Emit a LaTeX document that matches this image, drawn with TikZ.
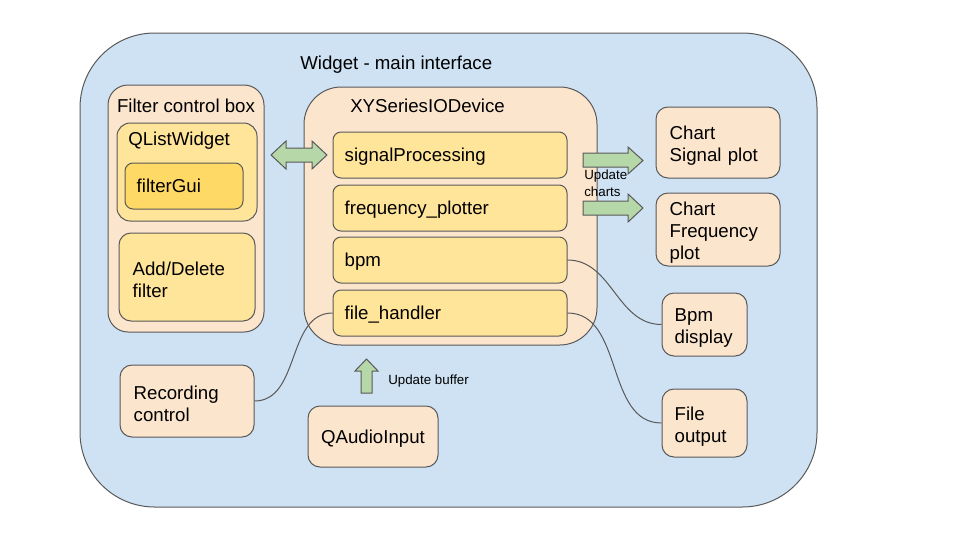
\documentclass[tikz,border=0pt]{standalone}
\usepackage{fontspec}
\setmainfont{Liberation Sans}
\definecolor{bluebg}{HTML}{CFE2F3}
\definecolor{peach}{HTML}{FCE5CD}
\definecolor{ylw}{HTML}{FFE599}
\definecolor{ylwd}{HTML}{FFD966}
\definecolor{grn}{HTML}{B6D7A8}
\definecolor{edgec}{HTML}{595959}
\newcommand\bx[8]{% name, x1, y1, x2, y2, style, pad(px), text
  \pgfmathsetmacro\bw{(#4-#2)*0.75}%
  \pgfmathsetmacro\bh{(#5-#3)*0.75}%
  \pgfmathsetmacro\tw{(#4-#2)*0.75-2*#7*0.75-1}%
  \pgfmathsetmacro\pd{#7*0.75}%
  \node[#6, minimum width=\bw pt, minimum height=\bh pt, text width=\tw pt,
        inner xsep=\pd pt, inner ysep=0pt] (#1) at ({(#2+#4)/2},{(#3+#5)/2}) {#8};%
}
\newcommand\ml{\rule{0pt}{15pt}}
\begin{document}
\begin{tikzpicture}[x=0.75pt,y=-0.75pt,
  every node/.style={font=\fontsize{14}{16.5}\selectfont, text=black},
  box/.style={draw=edgec, line width=0.75pt, align=left, rounded corners=#1},
  box/.default=9pt,
  sl/.style={text depth=0pt},
  lbl/.style={inner sep=0pt, text depth=0pt},
  conn/.style={draw=edgec, line width=0.75pt},
  garr/.style={draw=edgec, fill=grn, line width=0.75pt, line join=miter},
  small/.style={font=\fontsize{10}{12.75}\selectfont, align=left, inner sep=0pt}]
\useasboundingbox (0,0) rectangle (960,540);

% main frame
\bx{main}{80}{33}{817}{507}{box=56pt, fill=bluebg}{0}{}
\node[lbl, anchor=west] (maint) at (300,63) {Widget - main interface};

% filter control box
\bx{filt}{108}{85}{264}{332}{box=15pt, fill=peach}{0}{}
\node[lbl] (filtt) at (186,106) {Filter control box};
\bx{qlist}{117}{123}{257}{221}{box=10pt, fill=ylw}{0}{}
\node[lbl, anchor=west] (qlistt) at (128,139) {QListWidget};
\bx{fgui}{125}{163}{243}{209}{box=6pt, fill=ylwd, sl}{11}{filterGui}
\bx{addd}{119}{233}{255}{321}{box=9pt, fill=ylw}{13}{\ml Add/Delete\\filter}

% XYSeriesIODevice
\bx{xy}{304}{87}{597}{345}{box=28pt, fill=peach}{0}{}
\node[lbl, anchor=west] (xyt) at (350,106) {XYSeriesIODevice};
\bx{sig}{333}{132}{567}{178}{box=6pt, fill=ylw, sl}{11}{signalProcessing}
\bx{freq}{333}{185}{567}{231}{box=6pt, fill=ylw, sl}{11}{frequency\_plotter}
\bx{bpm}{333}{237}{567}{283}{box=6pt, fill=ylw, sl}{11}{bpm}
\bx{fh}{333}{290}{567}{336}{box=6pt, fill=ylw, sl}{11}{file\_handler}

% right side
\bx{chs}{656}{107}{780}{178}{box=9pt, fill=peach}{13}{\ml Chart\\Signal plot}
\bx{chf}{656}{193}{780}{266}{box=9pt, fill=peach}{13}{\ml Chart\\Frequency\\plot}
\bx{bpmd}{662}{293}{747}{356}{box=9pt, fill=peach}{12}{\ml Bpm\\display}
\bx{fout}{662}{389}{747}{457}{box=9pt, fill=peach}{12}{\ml File\\output}

% bottom left
\bx{rec}{120}{365}{254}{437}{box=9pt, fill=peach}{13}{\ml Recording\\control}
\bx{qai}{308}{406}{438}{467}{box=9pt, fill=peach, align=center, sl}{0}{QAudioInput}

% connectors
\draw[conn] (bpm.east) to[out=0,in=180] (bpmd.west);
\draw[conn] (fh.east) to[out=0,in=180] (fout.west);
\draw[conn] (fh.west) to[out=180,in=0] (rec.east);

% block arrows
\draw[garr] (271,155) -- (286,141) -- (286,148) -- (312,148) -- (312,141) -- (327,155)
  -- (312,169) -- (312,162) -- (286,162) -- (286,169) -- cycle;
\draw[garr] (583,153) -- (628,153) -- (628,147) -- (643,160.5) -- (628,174) -- (628,167)
  -- (583,167) -- cycle;
\draw[garr] (583,201) -- (628,201) -- (628,194) -- (643,208) -- (628,222) -- (628,215)
  -- (583,215) -- cycle;
\draw[garr] (361,393) -- (361,371) -- (355,371) -- (366.5,359) -- (378,371) -- (372,371)
  -- (372,393) -- cycle;

\node[small, anchor=west] (updc) at (584,183) {Update\\charts};
\node[lbl, small, anchor=west] (updb) at (388,380) {Update buffer};
\end{tikzpicture}
\end{document}
